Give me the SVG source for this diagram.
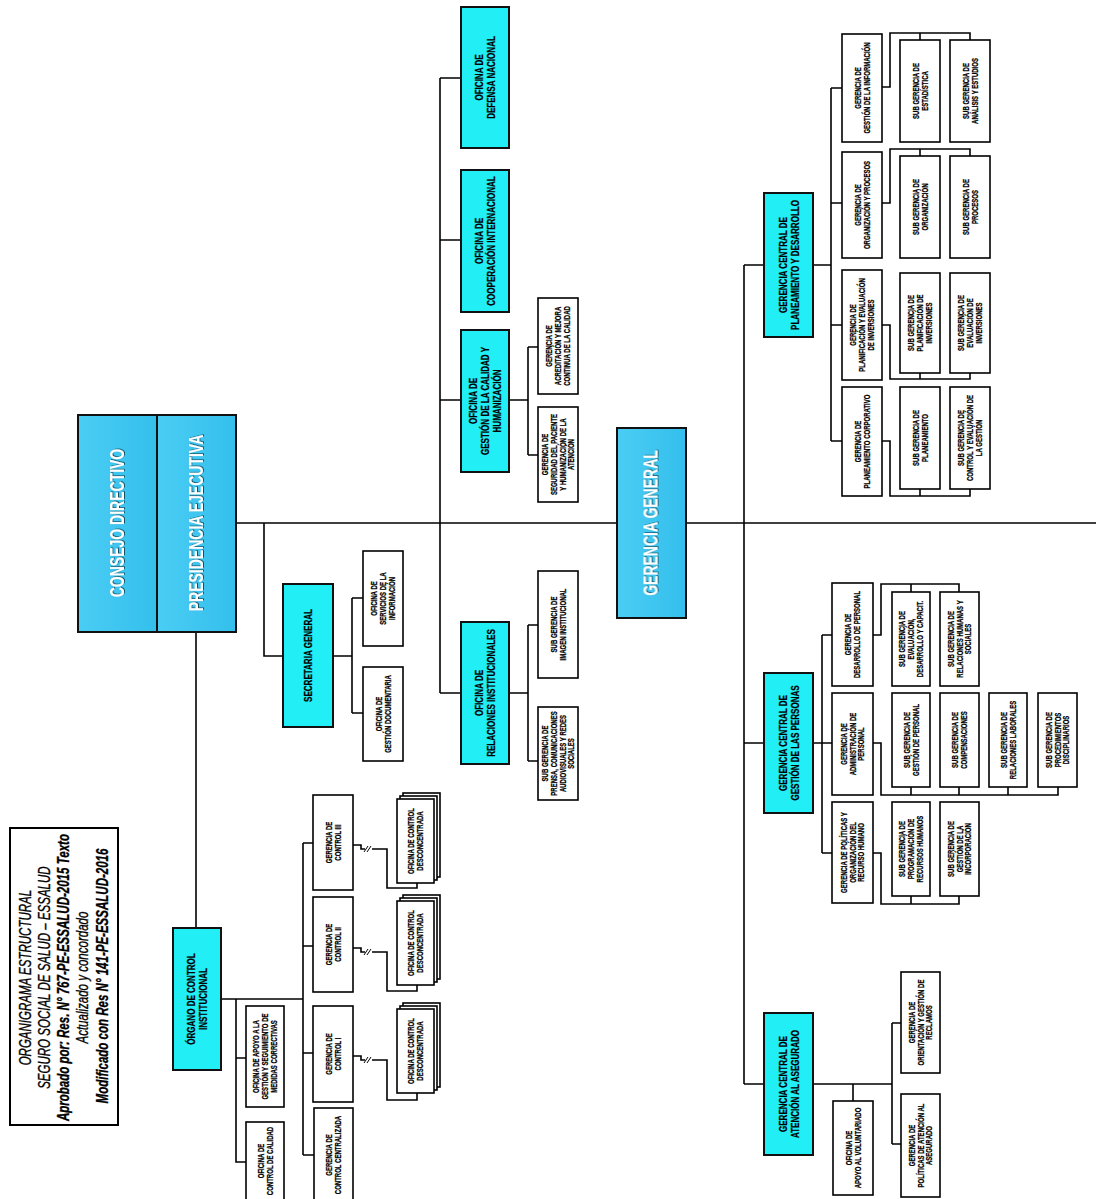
<svg xmlns="http://www.w3.org/2000/svg" width="1096" height="1199" viewBox="0 0 1096 1199">
<style>
.cn{fill:none;stroke:#000;stroke-width:1.6}
.bx{fill:#fff;stroke:#000;stroke-width:1.6}
.cy{fill:#22EEF6;stroke:#111;stroke-width:2}
.sk{fill:url(#gb);stroke:#111;stroke-width:2}
.t{font-family:"Liberation Sans",Arial,sans-serif;font-weight:bold;text-anchor:middle;fill:#000;stroke:#000;stroke-width:0.25}
.ts{font-size:8.6px}
.tm{font-size:11.5px}
.tb{font-size:20px;fill:#fff;stroke:none;filter:url(#sh)}
.tt{font-family:"Liberation Sans",Arial,sans-serif;font-style:italic;text-anchor:middle;font-size:16px;fill:#000;stroke:#000;stroke-width:0.35}
.brk{fill:none;stroke:#000;stroke-width:1}
</style>
<defs>
<linearGradient id="gb" x1="0" y1="0" x2="1" y2="0">
<stop offset="0" stop-color="#4ACDF4"/>
<stop offset="1" stop-color="#34BFEC"/>
</linearGradient>
<filter id="sh" x="-10%" y="-10%" width="130%" height="140%">
<feDropShadow dx="1" dy="1" stdDeviation="0.7" flood-color="#000" flood-opacity="0.6"/>
</filter>
</defs>
<rect width="1096" height="1199" fill="#fff"/>

<g id="connectors">
<path class="cn" d="M236,523 H1096"/>
<path class="cn" d="M196,632 V928"/>
<path class="cn" d="M264,523 V656 H283"/>
<path class="cn" d="M333,656 H352 M352,598 V713 M352,598 H363 M352,713 H363"/>
<path class="cn" d="M440,78 V693 M440,78 H461 M440,240 H461 M440,400 H461 M440,693 H461"/>
<path class="cn" d="M509,400 H528 M528,347 V455 M528,347 H538 M528,455 H538"/>
<path class="cn" d="M509,693 H528 M528,625 V761 M528,625 H538 M528,761 H538"/>
<path class="cn" d="M221,999 H303 M236,999 V1162 H246 M236,1058 H246"/>
<path class="cn" d="M303,843 V1155 M303,843 H313 M303,946 H313 M303,1053 H313 M303,1155 H314"/>
<path class="cn" d="M353,845 H361 V849 H387 V888 H417 V883"/>
<path class="cn" d="M353,948 H361 V952 H387 V991 H417 V985"/>
<path class="cn" d="M353,1056 H361 V1060 H387 V1100 H417 V1093"/>
<rect x="365" y="846" width="7" height="6" fill="#fff"/>
<rect x="365" y="949" width="7" height="6" fill="#fff"/>
<rect x="365" y="1057" width="7" height="6" fill="#fff"/>
<path class="brk" d="M364,852 L368,846 M367,852 L371,846 M364,955 L368,949 M367,955 L371,949 M364,1063 L368,1057 M367,1063 L371,1057"/>
<path class="cn" d="M744,265 V1084 M744,265 H764"/>
<path class="cn" d="M813,265 H831 M831,88 V441 M831,88 H842 M831,203 H842 M831,325 H842 M831,441 H842"/>
<path class="cn" d="M882,87 H890 V33 H970 V40 M920,33 V40"/>
<path class="cn" d="M882,203 H890 V149 H970 V156 M920,149 V156"/>
<path class="cn" d="M882,325 H890 V379 H970 V373 M920,379 V373"/>
<path class="cn" d="M882,441 H890 V496 H970 V489 M920,496 V489"/>
<path class="cn" d="M744,743 H764 M813,743 H822 M822,635 V853 M822,635 H832 M822,743 H832 M822,853 H832"/>
<path class="cn" d="M873,635 H881 V584 H959 V592 M911,584 V592"/>
<path class="cn" d="M873,743 H881 V795 H1058 V787 M911,795 V787 M959,795 V787 M1008,795 V787"/>
<path class="cn" d="M873,853 H881 V904 H959 V896 M911,904 V896"/>
<path class="cn" d="M744,1084 H764 M813,1084 H892 M853,1084 V1101 M892,1023 V1144 M892,1023 H901 M892,1144 H901"/>
</g>

<g id="titulo">
<rect x="10" y="828" width="108" height="297" fill="#fff" stroke="#000" stroke-width="2"/>
<text class="tt" transform="translate(63.5 976) rotate(-90) scale(0.72 1)">
<tspan x="0" y="-33">ORGANIGRAMA ESTRUCTURAL</tspan>
<tspan x="0" y="-13.7">SEGURO SOCIAL DE SALUD – ESSALUD</tspan>
<tspan x="0" y="5.6" font-weight="bold">Aprobado por: Res. N° 767-PE-ESSALUD-2015 Texto</tspan>
<tspan x="0" y="24.9">Actualizado y concordado</tspan>
<tspan x="0" y="44.2" font-weight="bold">Modificado con Res N° 141-PE-ESSALUD-2016</tspan>
</text>
</g>

<g id="consejo-directivo">
<rect class="sk" x="78" y="415" width="79" height="217"/>
<text class="t tb" transform="translate(117 523) rotate(-90) scale(0.7 1)"><tspan x="0" y="7">CONSEJO DIRECTIVO</tspan></text>
</g>
<g id="presidencia-ejecutiva">
<rect class="sk" x="157" y="415" width="79" height="217"/>
<text class="t tb" transform="translate(196 523) rotate(-90) scale(0.7 1)"><tspan x="0" y="7">PRESIDENCIA EJECUTIVA</tspan></text>
</g>
<g id="gerencia-general">
<rect class="sk" x="617" y="428" width="69" height="190"/>
<text class="t tb" transform="translate(651.5 523) rotate(-90) scale(0.7 1)" font-size="18"><tspan x="0" y="6.3">GERENCIA GENERAL</tspan></text>
</g>

<g id="secretaria-general">
<rect class="cy" x="283" y="584" width="50" height="143"/>
<text class="t tm" transform="translate(308 655.5) rotate(-90) scale(0.7 1)"><tspan x="0" y="4">SECRETARIA GENERAL</tspan></text>
</g>
<g id="of-servicios-informacion">
<rect class="bx" x="363" y="551" width="40" height="95"/>
<text class="t ts" transform="translate(383 598.5) rotate(-90) scale(0.7 1)"><tspan x="0" y="-6">OFICINA DE</tspan><tspan x="0" y="3">SERVICIOS DE LA</tspan><tspan x="0" y="12">INFORMACIÓN</tspan></text>
</g>
<g id="of-gestion-documentaria">
<rect class="bx" x="363" y="667" width="40" height="94"/>
<text class="t ts" transform="translate(383 714) rotate(-90) scale(0.7 1)"><tspan x="0" y="-1.5">OFICINA DE</tspan><tspan x="0" y="7.5">GESTIÓN DOCUMENTARIA</tspan></text>
</g>

<g id="of-defensa-nacional">
<rect class="cy" x="461" y="7" width="48" height="141"/>
<text class="t tm" transform="translate(485 77.5) rotate(-90) scale(0.7 1)"><tspan x="0" y="-2">OFICINA DE</tspan><tspan x="0" y="10">DEFENSA NACIONAL</tspan></text>
</g>
<g id="of-cooperacion-internacional">
<rect class="cy" x="461" y="170" width="48" height="142"/>
<text class="t tm" transform="translate(485 241) rotate(-90) scale(0.7 1)"><tspan x="0" y="-2">OFICINA DE</tspan><tspan x="0" y="10">COOPERACIÓN INTERNACIONAL</tspan></text>
</g>
<g id="of-gestion-calidad">
<rect class="cy" x="461" y="330" width="48" height="142"/>
<text class="t tm" transform="translate(485 401) rotate(-90) scale(0.7 1)"><tspan x="0" y="-8">OFICINA DE</tspan><tspan x="0" y="4">GESTIÓN DE LA CALIDAD Y</tspan><tspan x="0" y="16">HUMANIZACIÓN</tspan></text>
</g>
<g id="g-acreditacion">
<rect class="bx" x="538" y="298" width="40" height="96"/>
<text class="t ts" transform="translate(558 346) rotate(-90) scale(0.7 1)"><tspan x="0" y="-6">GERENCIA DE</tspan><tspan x="0" y="3">ACREDITACIÓN Y MEJORA</tspan><tspan x="0" y="12">CONTINUA DE LA CALIDAD</tspan></text>
</g>
<g id="g-seguridad-paciente">
<rect class="bx" x="538" y="407" width="40" height="95"/>
<text class="t ts" transform="translate(558 454.5) rotate(-90) scale(0.7 1)"><tspan x="0" y="-10.5">GERENCIA DE</tspan><tspan x="0" y="-1.5">SEGURIDAD DEL PACIENTE</tspan><tspan x="0" y="7.5">Y HUMANIZACIÓN DE LA</tspan><tspan x="0" y="16.5">ATENCIÓN</tspan></text>
</g>
<g id="of-relaciones-institucionales">
<rect class="cy" x="461" y="622" width="48" height="142"/>
<text class="t tm" transform="translate(485 693) rotate(-90) scale(0.7 1)"><tspan x="0" y="-2">OFICINA DE</tspan><tspan x="0" y="10">RELACIONES INSTITUCIONALES</tspan></text>
</g>
<g id="sg-imagen">
<rect class="bx" x="538" y="571" width="40" height="107"/>
<text class="t ts" transform="translate(558 624.5) rotate(-90) scale(0.7 1)"><tspan x="0" y="-1.5">SUB GERENCIA DE</tspan><tspan x="0" y="7.5">IMAGEN INSTITUCIONAL</tspan></text>
</g>
<g id="sg-prensa">
<rect class="bx" x="538" y="707" width="40" height="93"/>
<text class="t ts" transform="translate(558 753.5) rotate(-90) scale(0.7 1)"><tspan x="0" y="-10.5">SUB GERENCIA DE</tspan><tspan x="0" y="-1.5">PRENSA, COMUNICACIONES</tspan><tspan x="0" y="7.5">AUDIOVISUALES Y REDES</tspan><tspan x="0" y="16.5">SOCIALES</tspan></text>
</g>

<g id="organo-control">
<rect class="cy" x="173" y="928" width="48" height="142"/>
<text class="t tm" transform="translate(197 999) rotate(-90) scale(0.7 1)"><tspan x="0" y="-2">ÓRGANO DE CONTROL</tspan><tspan x="0" y="10">INSTITUCIONAL</tspan></text>
</g>
<g id="of-apoyo-gestion">
<rect class="bx" x="246" y="1006" width="38" height="101"/>
<text class="t ts" transform="translate(265 1056.5) rotate(-90) scale(0.7 1)"><tspan x="0" y="-6">OFICINA DE APOYO A LA</tspan><tspan x="0" y="3">GESTIÓN Y SEGUIMIENTO DE</tspan><tspan x="0" y="12">MEDIDAS CORRECTIVAS</tspan></text>
</g>
<g id="of-control-calidad">
<rect class="bx" x="246" y="1122" width="38" height="84"/>
<text class="t ts" transform="translate(265 1161) rotate(-90) scale(0.7 1)"><tspan x="0" y="-1.5">OFICINA DE</tspan><tspan x="0" y="7.5">CONTROL DE CALIDAD</tspan></text>
</g>
<g id="g-control-3">
<rect class="bx" x="313" y="795" width="40" height="95"/>
<text class="t ts" transform="translate(333 842.5) rotate(-90) scale(0.7 1)"><tspan x="0" y="-1.5">GERENCIA DE</tspan><tspan x="0" y="7.5">CONTROL III</tspan></text>
</g>
<g id="g-control-2">
<rect class="bx" x="313" y="897" width="40" height="95"/>
<text class="t ts" transform="translate(333 944.5) rotate(-90) scale(0.7 1)"><tspan x="0" y="-1.5">GERENCIA DE</tspan><tspan x="0" y="7.5">CONTROL II</tspan></text>
</g>
<g id="g-control-1">
<rect class="bx" x="313" y="1006" width="40" height="96"/>
<text class="t ts" transform="translate(333 1054) rotate(-90) scale(0.7 1)"><tspan x="0" y="-1.5">GERENCIA DE</tspan><tspan x="0" y="7.5">CONTROL I</tspan></text>
</g>
<g id="g-control-centralizada">
<rect class="bx" x="314" y="1108" width="39" height="112"/>
<text class="t ts" transform="translate(333.5 1155) rotate(-90) scale(0.7 1)"><tspan x="0" y="-1.5">GERENCIA DE</tspan><tspan x="0" y="7.5">CONTROL CENTRALIZADA</tspan></text>
</g>
<g id="of-desconcentrada-3">
<rect class="bx" x="403" y="793" width="37" height="84"/>
<rect class="bx" x="400" y="796" width="37" height="84"/>
<rect class="bx" x="397" y="799" width="37" height="84"/>
<text class="t ts" transform="translate(415.5 841) rotate(-90) scale(0.7 1)"><tspan x="0" y="-1.5">OFICINA DE CONTROL</tspan><tspan x="0" y="7.5">DESCONCENTRADA</tspan></text>
</g>
<g id="of-desconcentrada-2">
<rect class="bx" x="403" y="895" width="37" height="84"/>
<rect class="bx" x="400" y="898" width="37" height="84"/>
<rect class="bx" x="397" y="901" width="37" height="84"/>
<text class="t ts" transform="translate(415.5 943) rotate(-90) scale(0.7 1)"><tspan x="0" y="-1.5">OFICINA DE CONTROL</tspan><tspan x="0" y="7.5">DESCONCENTRADA</tspan></text>
</g>
<g id="of-desconcentrada-1">
<rect class="bx" x="403" y="1003" width="37" height="84"/>
<rect class="bx" x="400" y="1006" width="37" height="84"/>
<rect class="bx" x="397" y="1009" width="37" height="84"/>
<text class="t ts" transform="translate(415.5 1051) rotate(-90) scale(0.7 1)"><tspan x="0" y="-1.5">OFICINA DE CONTROL</tspan><tspan x="0" y="7.5">DESCONCENTRADA</tspan></text>
</g>

<g id="gc-planeamiento">
<rect class="cy" x="764" y="193" width="49" height="144"/>
<text class="t tm" transform="translate(788.5 265) rotate(-90) scale(0.7 1)"><tspan x="0" y="-2">GERENCIA CENTRAL DE</tspan><tspan x="0" y="10">PLANEAMIENTO Y DESARROLLO</tspan></text>
</g>
<g id="g-informacion">
<rect class="bx" x="842" y="34" width="40" height="108"/>
<text class="t ts" transform="translate(862 88) rotate(-90) scale(0.7 1)"><tspan x="0" y="-1.5">GERENCIA DE</tspan><tspan x="0" y="7.5">GESTIÓN DE LA INFORMACIÓN</tspan></text>
</g>
<g id="g-organizacion">
<rect class="bx" x="842" y="152" width="40" height="106"/>
<text class="t ts" transform="translate(862 205) rotate(-90) scale(0.7 1)"><tspan x="0" y="-1.5">GERENCIA DE</tspan><tspan x="0" y="7.5">ORGANIZACIÓN Y PROCESOS</tspan></text>
</g>
<g id="g-planificacion">
<rect class="bx" x="842" y="270" width="40" height="110"/>
<text class="t ts" transform="translate(862 325) rotate(-90) scale(0.7 1)"><tspan x="0" y="-6">GERENCIA DE</tspan><tspan x="0" y="3">PLANIFICACIÓN Y EVALUACIÓN</tspan><tspan x="0" y="12">DE INVERSIONES</tspan></text>
</g>
<g id="g-planeamiento-corporativo">
<rect class="bx" x="842" y="387" width="40" height="109"/>
<text class="t ts" transform="translate(862 441.5) rotate(-90) scale(0.7 1)"><tspan x="0" y="-1.5">GERENCIA DE</tspan><tspan x="0" y="7.5">PLANEAMIENTO CORPORATIVO</tspan></text>
</g>
<g id="sg-estadistica">
<rect class="bx" x="900" y="40" width="40" height="102"/>
<text class="t ts" transform="translate(920 91) rotate(-90) scale(0.7 1)"><tspan x="0" y="-1.5">SUB GERENCIA DE</tspan><tspan x="0" y="7.5">ESTADÍSTICA</tspan></text>
</g>
<g id="sg-analisis">
<rect class="bx" x="950" y="40" width="40" height="102"/>
<text class="t ts" transform="translate(970 91) rotate(-90) scale(0.7 1)"><tspan x="0" y="-1.5">SUB GERENCIA DE</tspan><tspan x="0" y="7.5">ANÁLISIS Y ESTUDIOS</tspan></text>
</g>
<g id="sg-organizacion">
<rect class="bx" x="900" y="156" width="40" height="102"/>
<text class="t ts" transform="translate(920 207) rotate(-90) scale(0.7 1)"><tspan x="0" y="-1.5">SUB GERENCIA DE</tspan><tspan x="0" y="7.5">ORGANIZACIÓN</tspan></text>
</g>
<g id="sg-procesos">
<rect class="bx" x="950" y="156" width="40" height="102"/>
<text class="t ts" transform="translate(970 207) rotate(-90) scale(0.7 1)"><tspan x="0" y="-1.5">SUB GERENCIA DE</tspan><tspan x="0" y="7.5">PROCESOS</tspan></text>
</g>
<g id="sg-planificacion-inversiones">
<rect class="bx" x="900" y="273" width="40" height="100"/>
<text class="t ts" transform="translate(920 323) rotate(-90) scale(0.7 1)"><tspan x="0" y="-6">SUB GERENCIA DE</tspan><tspan x="0" y="3">PLANIFICACIÓN DE</tspan><tspan x="0" y="12">INVERSIONES</tspan></text>
</g>
<g id="sg-evaluacion-inversiones">
<rect class="bx" x="950" y="273" width="40" height="100"/>
<text class="t ts" transform="translate(970 323) rotate(-90) scale(0.7 1)"><tspan x="0" y="-6">SUB GERENCIA DE</tspan><tspan x="0" y="3">EVALUACIÓN DE</tspan><tspan x="0" y="12">INVERSIONES</tspan></text>
</g>
<g id="sg-planeamiento">
<rect class="bx" x="900" y="387" width="40" height="102"/>
<text class="t ts" transform="translate(920 438) rotate(-90) scale(0.7 1)"><tspan x="0" y="-1.5">SUB GERENCIA DE</tspan><tspan x="0" y="7.5">PLANEAMIENTO</tspan></text>
</g>
<g id="sg-control-evaluacion">
<rect class="bx" x="950" y="387" width="40" height="102"/>
<text class="t ts" transform="translate(970 438) rotate(-90) scale(0.7 1)"><tspan x="0" y="-6">SUB GERENCIA DE</tspan><tspan x="0" y="3">CONTROL Y EVALUACIÓN DE</tspan><tspan x="0" y="12">LA GESTIÓN</tspan></text>
</g>

<g id="gc-personas">
<rect class="cy" x="764" y="673" width="49" height="140"/>
<text class="t tm" transform="translate(788.5 743) rotate(-90) scale(0.7 1)"><tspan x="0" y="-2">GERENCIA CENTRAL DE</tspan><tspan x="0" y="10">GESTIÓN DE LAS PERSONAS</tspan></text>
</g>
<g id="g-desarrollo-personal">
<rect class="bx" x="832" y="583" width="41" height="103"/>
<text class="t ts" transform="translate(852.5 634.5) rotate(-90) scale(0.7 1)"><tspan x="0" y="-1.5">GERENCIA DE</tspan><tspan x="0" y="7.5">DESARROLLO DE PERSONAL</tspan></text>
</g>
<g id="g-administracion-personal">
<rect class="bx" x="832" y="693" width="41" height="102"/>
<text class="t ts" transform="translate(852.5 744) rotate(-90) scale(0.7 1)"><tspan x="0" y="-6">GERENCIA DE</tspan><tspan x="0" y="3">ADMINISTRACIÓN DE</tspan><tspan x="0" y="12">PERSONAL</tspan></text>
</g>
<g id="g-politicas-rrhh">
<rect class="bx" x="832" y="802" width="41" height="101"/>
<text class="t ts" transform="translate(852.5 852.5) rotate(-90) scale(0.7 1)"><tspan x="0" y="-6">GERENCIA DE POLÍTICAS Y</tspan><tspan x="0" y="3">ORGANIZACIÓN DEL</tspan><tspan x="0" y="12">RECURSO HUMANO</tspan></text>
</g>
<g id="sg-evaluacion-desarrollo">
<rect class="bx" x="892" y="592" width="38" height="94"/>
<text class="t ts" transform="translate(911 639) rotate(-90) scale(0.7 1)"><tspan x="0" y="-6">SUB GERENCIA DE</tspan><tspan x="0" y="3">EVALUACIÓN,</tspan><tspan x="0" y="12">DESARROLLO Y CAPACIT.</tspan></text>
</g>
<g id="sg-relaciones-humanas">
<rect class="bx" x="940" y="592" width="39" height="94"/>
<text class="t ts" transform="translate(959.5 639) rotate(-90) scale(0.7 1)"><tspan x="0" y="-6">SUB GERENCIA DE</tspan><tspan x="0" y="3">RELACIONES HUMANAS Y</tspan><tspan x="0" y="12">SOCIALES</tspan></text>
</g>
<g id="sg-gestion-personal">
<rect class="bx" x="892" y="693" width="38" height="94"/>
<text class="t ts" transform="translate(911 740) rotate(-90) scale(0.7 1)"><tspan x="0" y="-1.5">SUB GERENCIA DE</tspan><tspan x="0" y="7.5">GESTIÓN DE PERSONAL</tspan></text>
</g>
<g id="sg-compensaciones">
<rect class="bx" x="940" y="693" width="39" height="94"/>
<text class="t ts" transform="translate(959.5 740) rotate(-90) scale(0.7 1)"><tspan x="0" y="-1.5">SUB GERENCIA DE</tspan><tspan x="0" y="7.5">COMPENSACIONES</tspan></text>
</g>
<g id="sg-relaciones-laborales">
<rect class="bx" x="989" y="693" width="38" height="94"/>
<text class="t ts" transform="translate(1008 740) rotate(-90) scale(0.7 1)"><tspan x="0" y="-1.5">SUB GERENCIA DE</tspan><tspan x="0" y="7.5">RELACIONES LABORALES</tspan></text>
</g>
<g id="sg-procedimientos">
<rect class="bx" x="1038" y="693" width="39" height="94"/>
<text class="t ts" transform="translate(1057.5 740) rotate(-90) scale(0.7 1)"><tspan x="0" y="-6">SUB GERENCIA DE</tspan><tspan x="0" y="3">PROCEDIMIENTOS</tspan><tspan x="0" y="12">DISCIPLINARIOS</tspan></text>
</g>
<g id="sg-programacion">
<rect class="bx" x="892" y="802" width="38" height="94"/>
<text class="t ts" transform="translate(911 849) rotate(-90) scale(0.7 1)"><tspan x="0" y="-6">SUB GERENCIA DE</tspan><tspan x="0" y="3">PROGRAMACIÓN DE</tspan><tspan x="0" y="12">RECURSOS HUMANOS</tspan></text>
</g>
<g id="sg-incorporacion">
<rect class="bx" x="940" y="802" width="39" height="94"/>
<text class="t ts" transform="translate(959.5 849) rotate(-90) scale(0.7 1)"><tspan x="0" y="-6">SUB GERENCIA DE</tspan><tspan x="0" y="3">GESTIÓN DE LA</tspan><tspan x="0" y="12">INCORPORACIÓN</tspan></text>
</g>

<g id="gc-asegurado">
<rect class="cy" x="764" y="1013" width="49" height="142"/>
<text class="t tm" transform="translate(788.5 1084) rotate(-90) scale(0.7 1)"><tspan x="0" y="-2">GERENCIA CENTRAL DE</tspan><tspan x="0" y="10">ATENCIÓN AL ASEGURADO</tspan></text>
</g>
<g id="of-voluntariado">
<rect class="bx" x="833" y="1101" width="40" height="94"/>
<text class="t ts" transform="translate(853 1148) rotate(-90) scale(0.7 1)"><tspan x="0" y="-1.5">OFICINA DE</tspan><tspan x="0" y="7.5">APOYO AL VOLUNTARIADO</tspan></text>
</g>
<g id="g-orientacion">
<rect class="bx" x="901" y="972" width="39" height="101"/>
<text class="t ts" transform="translate(920.5 1022.5) rotate(-90) scale(0.7 1)"><tspan x="0" y="-6">GERENCIA DE</tspan><tspan x="0" y="3">ORIENTACIÓN Y GESTIÓN DE</tspan><tspan x="0" y="12">RECLAMOS</tspan></text>
</g>
<g id="g-politicas-atencion">
<rect class="bx" x="901" y="1094" width="39" height="103"/>
<text class="t ts" transform="translate(920.5 1145.5) rotate(-90) scale(0.7 1)"><tspan x="0" y="-6">GERENCIA DE</tspan><tspan x="0" y="3">POLÍTICAS DE ATENCIÓN AL</tspan><tspan x="0" y="12">ASEGURADO</tspan></text>
</g>
</svg>
